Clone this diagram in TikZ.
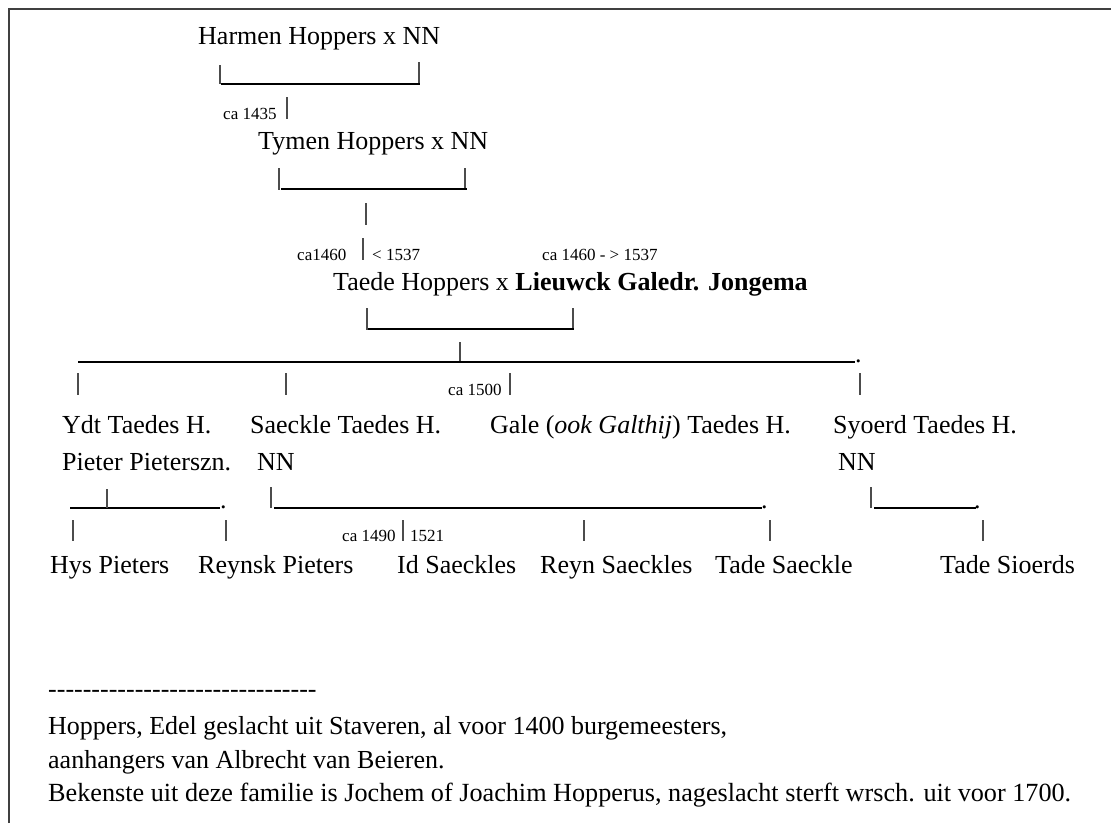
\documentclass[tikz,border=0pt]{standalone}
\usepackage{fontspec}
\setmainfont{Liberation Serif}
\begin{document}
\begin{tikzpicture}[x=1pt,y=-1pt,
  txt/.style={font=\fontsize{26}{30}\selectfont, inner sep=0pt, anchor=base west},
  sml/.style={font=\fontsize{17}{20}\selectfont, inner sep=0pt, anchor=base west},
  bar/.style={draw=black!70, line width=1.2pt},
  rule/.style={draw=black, line width=2pt},
  frame/.style={draw=black!75, line width=2.2pt}]
\useasboundingbox (0,0) rectangle (1111,823);
\draw[frame] (9,823) -- (9,9) -- (1111,9);
% generation 1
\node[txt] (harmen) at (198,44) {Harmen Hoppers x NN};
\draw[bar] (220,65) -- (220,84);
\draw[bar] (419,62) -- (419,84);
\draw[rule] (221,84) -- (420,84);
\node[sml] (c1435) at (223,119) {ca 1435};
\draw[bar] (287,97) -- (287,119);
% generation 2
\node[txt] (tymen) at (258,149) {Tymen Hoppers x NN};
\draw[bar] (279,168) -- (279,190);
\draw[bar] (465,168) -- (465,190);
\draw[rule] (281,189) -- (467,189);
\draw[bar] (366,203) -- (366,225);
\node[sml] (c1460) at (297,260) {ca1460};
\draw[bar] (363,238) -- (363,260);
\node[sml] (d1537) at (372,260) {< 1537};
\node[sml] (lw) at (542,260) {ca 1460 - > 1537};
% generation 3
\node[txt] (taede) at (333,290) {Taede Hoppers x \textbf{Lieuwck Galedr. Jongema}};
\draw[bar] (367,308) -- (367,330);
\draw[bar] (573,308) -- (573,330);
\draw[rule] (368,329) -- (574,329);
\draw[bar] (460,342) -- (460,362);
\draw[rule] (78,362) -- (855,362);
\node[txt] (dot1) at (855,362) {.};
\draw[bar] (78,373) -- (78,395);
\draw[bar] (286,373) -- (286,395);
\node[sml] (c1500) at (448,395) {ca 1500};
\draw[bar] (510,373) -- (510,395);
\draw[bar] (860,373) -- (860,395);
% generation 4
\node[txt] (ydt) at (62,433) {Ydt Taedes H.};
\node[txt] (saeckle) at (250,433) {Saeckle Taedes H.};
\node[txt] (gale) at (490,433) {Gale (\textit{ook Galthij}) Taedes H.};
\node[txt] (syoerd) at (833,433) {Syoerd Taedes H.};
\node[txt] (pieter) at (62,470) {Pieter Pieterszn.};
\node[txt] (nn1) at (257,470) {NN};
\node[txt] (nn2) at (838,470) {NN};
% brackets gen 4
\draw[rule] (70,508) -- (220,508);
\draw[bar] (107,489) -- (107,508);
\node[txt] (dot2) at (220,508) {.};
\draw[bar] (271,487) -- (271,508);
\draw[rule] (274,508) -- (762,508);
\node[txt] (dot3) at (761,508) {.};
\draw[bar] (871,487) -- (871,508);
\draw[rule] (874,508) -- (976,508);
\node[txt] (dot4) at (974,508) {.};
\draw[bar] (73,520) -- (73,541);
\draw[bar] (226,520) -- (226,541);
\node[sml] (c1490) at (342,541) {ca 1490};
\draw[bar] (403,520) -- (403,541);
\node[sml] (d1521) at (410,541) {1521};
\draw[bar] (584,520) -- (584,541);
\draw[bar] (770,520) -- (770,541);
\draw[bar] (983,520) -- (983,541);
% generation 5
\node[txt] (hys) at (50,573) {Hys Pieters};
\node[txt] (reynsk) at (198,573) {Reynsk Pieters};
\node[txt] (id) at (397,573) {Id Saeckles};
\node[txt] (reyn) at (540,573) {Reyn Saeckles};
\node[txt] (tades) at (715,573) {Tade Saeckle};
\node[txt] (tadesi) at (940,573) {Tade Sioerds};
% footer
\node[txt] (dash) at (48,697) {{-}{-}{-}{-}{-}{-}{-}{-}{-}{-}{-}{-}{-}{-}{-}{-}{-}{-}{-}{-}{-}{-}{-}{-}{-}{-}{-}{-}{-}{-}{-}};
\node[txt] (f1) at (48,734) {Hoppers, Edel geslacht uit Staveren, al voor 1400 burgemeesters,};
\node[txt] (f2) at (48,768) {aanhangers van Albrecht van Beieren.};
\node[txt] (f3) at (48,801) {\fontsize{26.2}{30}\selectfont Bekenste uit deze familie is Jochem of Joachim Hopperus, nageslacht sterft wrsch. uit voor 1700.};
\end{tikzpicture}
\end{document}
